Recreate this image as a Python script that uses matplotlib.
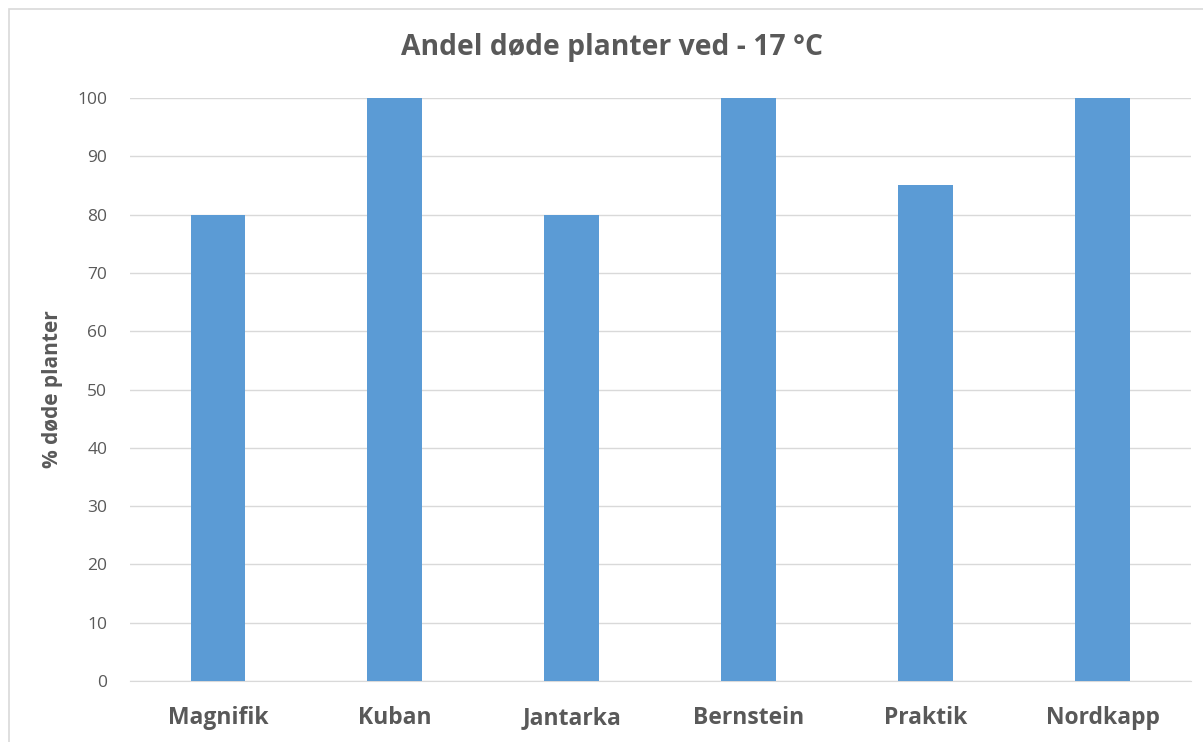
import matplotlib.pyplot as plt
from matplotlib.patches import Rectangle

plt.rcParams['font.family'] = ['Open Sans', 'DejaVu Sans']

sorter = ['Magnifik', 'Kuban', 'Jantarka', 'Bernstein', 'Praktik', 'Nordkapp']
andel_dode = [80, 100, 80, 100, 85, 100]
y_ticks = [0, 10, 20, 30, 40, 50, 60, 70, 80, 90, 100]

text_grey = '#595959'
bar_blue = '#5B9BD5'

fig = plt.figure(figsize=(12.03, 7.42), dpi=100)
ax = fig.add_axes([0.1077, 0.0822, 0.8823, 0.7857])

# light chart border like an Excel chart area
fig.patches.append(Rectangle((9 / 1203, -0.01), 1.05, 1 - 9 / 742 + 0.01,
                             transform=fig.transFigure, fill=False,
                             edgecolor='#d9d9d9', linewidth=1.2))

x = range(len(sorter))
ax.bar(x, andel_dode, width=0.31, color=bar_blue, zorder=3)

ax.set_xlim(-0.5, len(sorter) - 0.5)
ax.set_ylim(0, 100)
ax.set_yticks(y_ticks)
ax.set_xticks(list(x))
ax.set_xticklabels(sorter, fontsize=16.5, fontweight='bold', color=text_grey)
ax.tick_params(axis='y', labelsize=12.5, labelcolor=text_grey, length=0, pad=16)
ax.tick_params(axis='x', length=0, pad=18)

ax.grid(axis='y', color='#d9d9d9', linewidth=1, zorder=0)
for side in ['top', 'right', 'left']:
    ax.spines[side].set_visible(False)
ax.spines['bottom'].set_color('#d9d9d9')

ax.set_ylabel('% døde planter', fontsize=15, fontweight='bold', color=text_grey, labelpad=10)
fig.text(612 / 1203, 1 - 48 / 742, 'Andel døde planter ved - 17 °C', ha='center', va='center',
         fontsize=20.3, fontweight='bold', color=text_grey)

fig.savefig('out.png', dpi=100)
